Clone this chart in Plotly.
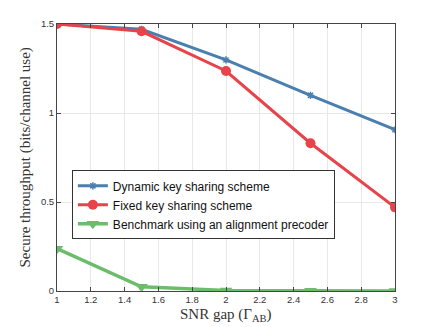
import plotly.graph_objects as go

snr_gap = [1, 1.5, 2, 2.5, 3]
dynamic = [1.5, 1.47, 1.298, 1.099, 0.906]
fixed = [1.5, 1.459, 1.236, 0.83, 0.47]
benchmark = [0.238, 0.024, 0.003, 0.001, 0.0]

names = ["Dynamic key sharing scheme", "Fixed key sharing scheme",
         "Benchmark using an alignment precoder"]
x_ticks = [1, 1.2, 1.4, 1.6, 1.8, 2, 2.2, 2.4, 2.6, 2.8, 3]
y_ticks = [0, 0.5, 1, 1.5]
y_tick_text = ["0", "0.5", "1", "1.5"]
x_title = "SNR gap (Γ<sub>AB</sub>)"
y_title = "Secure throughput (bits/channel use)"

blue = "#4a7fb0"
red = "#e8434a"
green = "#6cbd6b"

fig = go.Figure()
fig.add_trace(go.Scatter(x=snr_gap, y=dynamic, name=names[0], mode="lines+markers",
                         line=dict(color=blue, width=3),
                         marker=dict(symbol="asterisk-open", size=6, color=blue,
                                     line=dict(color=blue, width=1.5))))
fig.add_trace(go.Scatter(x=snr_gap, y=fixed, name=names[1], mode="lines+markers",
                         line=dict(color=red, width=3),
                         marker=dict(symbol="circle", size=10, color=red)))
fig.add_trace(go.Scatter(x=snr_gap, y=benchmark, name=names[2], mode="lines+markers",
                         line=dict(color=green, width=3.5),
                         marker=dict(symbol="triangle-down", size=11, color=green)))

fig.update_layout(
    width=428, height=319,
    margin=dict(l=49, r=41, t=16, b=36),
    plot_bgcolor="white", paper_bgcolor="white",
    showlegend=True,
    legend=dict(x=0.044, y=0.452, xanchor="left", yanchor="top",
                bgcolor="white", bordercolor="#333", borderwidth=1,
                font=dict(family="Liberation Sans", size=12, color="#111"),
                tracegroupgap=0, itemwidth=30),
    font=dict(family="Liberation Sans"),
    annotations=[
        dict(text=x_title, xref="paper", yref="paper", x=0.5, y=0,
             xanchor="center", yanchor="middle", yshift=-24, showarrow=False,
             font=dict(family="Liberation Serif", size=15, color="#333")),
        dict(text=y_title, xref="paper", yref="paper", x=0, y=0.5,
             xanchor="center", yanchor="middle", xshift=-32, textangle=-90,
             showarrow=False,
             font=dict(family="Liberation Serif", size=15, color="#333")),
    ],
)
fig.update_xaxes(range=[1, 3], tickvals=x_ticks, ticktext=[str(v) for v in x_ticks],
                 showgrid=True, gridcolor="#e8e8e8", gridwidth=1,
                 showline=True, linecolor="#444", linewidth=1, mirror="ticks",
                 ticks="inside", ticklen=4, tickcolor="#444", automargin=False,
                 tickfont=dict(family="Liberation Sans", size=9.5, color="#333"),
                 zeroline=False)
fig.update_yaxes(range=[0, 1.5], tickvals=y_ticks, ticktext=y_tick_text,
                 showgrid=True, gridcolor="#e8e8e8", gridwidth=1,
                 showline=True, linecolor="#444", linewidth=1, mirror="ticks",
                 ticks="inside", ticklen=4, tickcolor="#444", automargin=False,
                 tickfont=dict(family="Liberation Sans", size=9.5, color="#333"),
                 zeroline=False)

fig.write_html("out.html")
